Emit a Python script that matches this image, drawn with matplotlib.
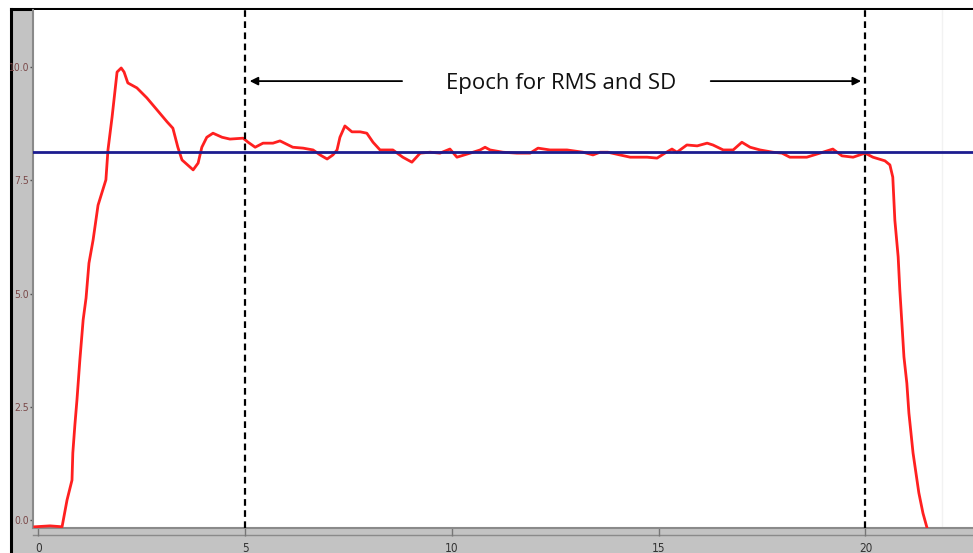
import matplotlib
matplotlib.use("Agg")
import matplotlib.pyplot as plt
from matplotlib.patches import Rectangle
from matplotlib.lines import Line2D

# force signal trace
time_s = [
    -0.09, 0.28, 0.57, 0.69, 0.81, 0.83, 0.88, 0.93, 1.00, 1.08, 1.15, 1.22, 1.32, 1.44,
    1.63, 1.68, 1.78, 1.90, 2.00, 2.07, 2.16, 2.38, 2.62, 2.87, 3.11, 3.25, 3.37, 3.47,
    3.74, 3.86, 3.95, 4.07, 4.22, 4.44, 4.63, 4.95, 5.07, 5.24, 5.43, 5.67, 5.84, 6.15,
    6.40, 6.64, 6.81, 6.98, 7.12, 7.22, 7.29, 7.41, 7.58, 7.78, 7.94, 8.09, 8.26, 8.57,
    8.81, 9.03, 9.23, 9.47, 9.71, 9.95, 10.12, 10.44, 10.68, 10.80, 10.92, 11.23, 11.57,
    11.89, 12.08, 12.37, 12.78, 13.17, 13.41, 13.58, 13.77, 14.06, 14.31, 14.72, 14.96,
    15.15, 15.32, 15.44, 15.68, 15.93, 16.17, 16.31, 16.56, 16.80, 17.01, 17.21, 17.45,
    17.76, 17.98, 18.17, 18.58, 18.90, 19.21, 19.43, 19.70, 19.99, 20.18, 20.47, 20.59,
    20.66, 20.71, 20.79, 20.83, 20.88, 20.93, 21.00, 21.05, 21.10, 21.15, 21.22, 21.29,
    21.39, 21.49,
]
force = [
    -0.15, -0.13, -0.15, 0.44, 0.88, 1.48, 2.10, 2.65, 3.53, 4.42, 4.90, 5.67, 6.18, 6.95,
    7.51, 8.17, 8.90, 9.89, 9.98, 9.89, 9.65, 9.54, 9.32, 9.05, 8.79, 8.65, 8.23, 7.95,
    7.73, 7.88, 8.23, 8.45, 8.54, 8.45, 8.41, 8.43, 8.34, 8.23, 8.32, 8.32, 8.37, 8.23,
    8.21, 8.17, 8.06, 7.97, 8.06, 8.17, 8.45, 8.70, 8.57, 8.57, 8.54, 8.34, 8.17, 8.17,
    8.01, 7.90, 8.10, 8.12, 8.10, 8.19, 8.01, 8.10, 8.17, 8.23, 8.17, 8.12, 8.10,
    8.10, 8.21, 8.17, 8.17, 8.12, 8.06, 8.12, 8.12, 8.06, 8.01, 8.01, 7.99,
    8.10, 8.19, 8.12, 8.28, 8.26, 8.32, 8.28, 8.17, 8.17, 8.34, 8.23, 8.17,
    8.12, 8.10, 8.01, 8.01, 8.10, 8.19, 8.04, 8.01, 8.10, 8.01, 7.93, 7.84,
    7.57, 6.62, 5.81, 5.08, 4.35, 3.60, 3.02, 2.36, 1.92, 1.48, 1.04, 0.60,
    0.15, -0.18,
]
mean_level = 8.12
epoch_bounds = [5, 20]
epoch_label = "Epoch for RMS and SD"
x_ticks = [0, 5, 10, 15, 20]
y_ticks = [0.0, 2.5, 5.0, 7.5, 10.0]

W, H = 973, 553
fig = plt.figure(figsize=(W / 100, H / 100), dpi=100, facecolor="white")

# gray frame of the old software window, drawn behind the axes
fig.patches.append(Rectangle((12 / W, 0), 21 / W, 1 - 10 / H, transform=fig.transFigure,
                             facecolor="#c3c3c3", edgecolor="none", zorder=-2))
fig.patches.append(Rectangle((12 / W, 0), 1, 25 / H, transform=fig.transFigure,
                             facecolor="#c3c3c3", edgecolor="none", zorder=-2))
fig.lines.append(Line2D([33 / W, 1], [18 / H, 18 / H], transform=fig.transFigure,
                        color="#8a8a8a", lw=1.0, zorder=-1))
fig.lines.append(Line2D([10.5 / W, 1], [1 - 9 / H, 1 - 9 / H], transform=fig.transFigure,
                        color="black", lw=2.2, zorder=-1))
fig.lines.append(Line2D([10.5 / W, 10.5 / W], [0, 1 - 9 / H], transform=fig.transFigure,
                        color="black", lw=2.2, zorder=-1))

ax = fig.add_axes([33 / W, 25 / H, 940 / W, 518 / H])
ax.set_facecolor("white")

ax.plot(time_s, force, color="#ff2020", lw=2.0, zorder=3)
ax.axhline(mean_level, color="#1c1c8f", lw=2.0, zorder=4)
for xb in epoch_bounds:
    ax.axvline(xb, color="black", lw=1.6, ls=(0, (3, 2)), zorder=5)
ax.axvline(21.85, color="#f2f2f2", lw=1.0, zorder=1)

ax.annotate("", xy=(epoch_bounds[0] + 0.04, 9.69), xytext=(8.86, 9.69),
            arrowprops=dict(arrowstyle="-|>", color="black", lw=1.3, mutation_scale=12))
ax.annotate("", xy=(epoch_bounds[1] - 0.04, 9.69), xytext=(16.19, 9.69),
            arrowprops=dict(arrowstyle="-|>", color="black", lw=1.3, mutation_scale=12))
ax.text(12.65, 9.51, epoch_label, ha="center", va="baseline", fontsize=16, color="#111111",
        family=["Open Sans", "DejaVu Sans"])

ax.set_xlim(-0.133, 22.6)
ax.set_ylim(-0.177, 11.26)
ax.set_xticks(x_ticks)
ax.set_xticklabels([str(v) for v in x_ticks])
ax.set_yticks(y_ticks)
ax.set_yticklabels([f"{v:.1f}" for v in y_ticks])
ax.tick_params(axis="y", direction="out", length=2, width=1, color="#555555",
               labelsize=7.5, labelcolor="#7a4848", pad=1)
ax.tick_params(axis="x", direction="out", length=6, width=1, color="#777777",
               labelsize=8.5, labelcolor="#333333", pad=4)
for lab in ax.get_yticklabels() + ax.get_xticklabels():
    lab.set_fontstretch("condensed")

for side in ["top", "right"]:
    ax.spines[side].set_visible(False)
ax.spines["left"].set_color("#8a8a8a")
ax.spines["left"].set_linewidth(1.5)
ax.spines["bottom"].set_color("#8a8a8a")
ax.spines["bottom"].set_linewidth(1.5)

fig.savefig("out.png", dpi=100, facecolor="white")
